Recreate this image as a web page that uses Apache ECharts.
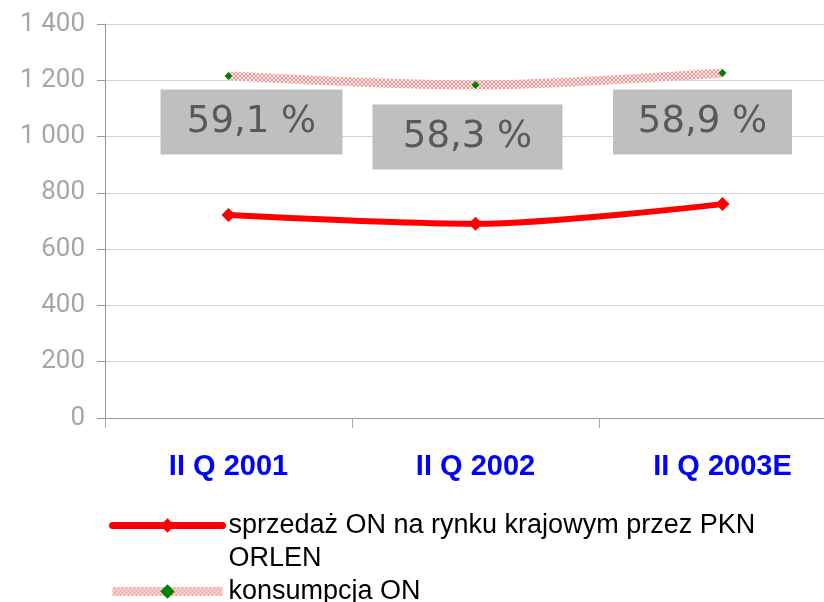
<!DOCTYPE html>
<html>
<head>
<meta charset="utf-8">
<script src="https://cdn.jsdelivr.net/npm/echarts@6/dist/echarts.min.js"></script>
<style>
	html, body { margin: 0; padding: 0; background: #fff; }
	#chart { width: 824px; height: 602px; }
</style>
</head>
<body>
<div id="chart"></div>
<script>
	// dane
	var categories = ['II Q 2001', 'II Q 2002', 'II Q 2003E'];
	var salesPKN = [721, 690, 760];
	var consumption = [1215, 1183, 1226];
	var shareLabels = ['59,1 %', '58,3 %', '58,9 %'];
	var yTicks = [0, 200, 400, 600, 800, 1000, 1200, 1400];
	var salesName = 'sprzedaż ON na rynku krajowym przez PKN\nORLEN';
	var consName = 'konsumpcja ON';

	// wzor dla linii konsumpcji
	var pat = document.createElement('canvas');
	pat.width = 4; pat.height = 4;
	var c = pat.getContext('2d');
	c.fillStyle = '#fde8e8';
	c.fillRect(0, 0, 4, 4);
	c.strokeStyle = '#f29a9a';
	c.lineWidth = 1;
	c.beginPath();
	c.moveTo(0, 0); c.lineTo(4, 4);
	c.moveTo(4, 0); c.lineTo(0, 4);
	c.stroke();

	var boxOffsets = [[23, 46], [-8, 52], [-20, 49]];
	var boxWidths = [182, 190, 179];

	var consData = consumption.map(function (v, i) {
		return {
			value: v,
			label: {
				show: true,
				position: 'inside',
				offset: boxOffsets[i],
				formatter: shareLabels[i],
				width: boxWidths[i],
				height: 65,
				lineHeight: 65,
				align: 'center',
				verticalAlign: 'middle',
				backgroundColor: '#bfbfbf',
				color: '#555a5a',
				fontSize: 37,
				fontFamily: 'DejaVu Sans, sans-serif',
				padding: 0
			}
		};
	});

	var myChart = echarts.init(document.getElementById('chart'));
	myChart.setOption({
		animation: false,
		grid: {
			left: 105,
			top: 24,
			bottom: 184,
			width: 741,
			outerBoundsMode: 'none'
		},
		legend: {
			orient: 'vertical',
			left: 108,
			top: 476,
			padding: 0,
			itemWidth: 110,
			itemHeight: 18,
			itemGap: 0,
			data: [
				{ name: salesName, lineStyle: { width: 7, cap: 'round' } },
				{ name: consName, lineStyle: { width: 9 } }
			],
			formatter: function (name) {
				if (name.indexOf('\n') >= 0) return '\n' + name;
				return name;
			},
			textStyle: {
				fontFamily: 'Liberation Sans, Arial, sans-serif',
				fontSize: 27,
				lineHeight: 33,
				color: '#000',
				padding: [0, 0, 0, 1]
			}
		},
		xAxis: {
			type: 'category',
			data: categories,
			axisLine: { lineStyle: { color: '#999' } },
			axisTick: { show: true, length: 10, lineStyle: { color: '#aaa' } },
			axisLabel: {
				margin: 34,
				color: '#0000ff',
				fontWeight: 'bold',
				fontSize: 29,
				fontFamily: 'Liberation Sans, Arial, sans-serif'
			}
		},
		yAxis: {
			type: 'value',
			min: yTicks[0],
			max: yTicks[yTicks.length - 1],
			interval: 200,
			axisLine: { show: true, lineStyle: { color: '#999' } },
			axisTick: { show: true, length: 8, lineStyle: { color: '#999' } },
			splitLine: { lineStyle: { color: '#d4d4d4' } },
			axisLabel: {
				margin: 20,
				color: '#a6a6a6',
				fontSize: 26,
				fontFamily: 'Roboto, sans-serif',
				formatter: function (v) {
					if (v >= 1000) {
						var s = String(v);
						return s.slice(0, s.length - 3) + ' ' + s.slice(-3);
					}
					return String(v);
				}
			}
		},
		series: [
			{
				name: salesName,
				type: 'line',
				data: salesPKN,
				smooth: 0.3,
				symbol: 'diamond',
				symbolSize: 14,
				itemStyle: { color: '#ff0000' },
				lineStyle: { color: '#ff0000', width: 6 }
			},
			{
				name: consName,
				type: 'line',
				data: consData,
				smooth: 0.3,
				symbol: 'diamond',
				symbolSize: 8,
				itemStyle: { color: '#008000' },
				lineStyle: { color: { image: pat, repeat: 'repeat' }, width: 9 },
				z: 1
			}
		]
	});
</script>
</body>
</html>
